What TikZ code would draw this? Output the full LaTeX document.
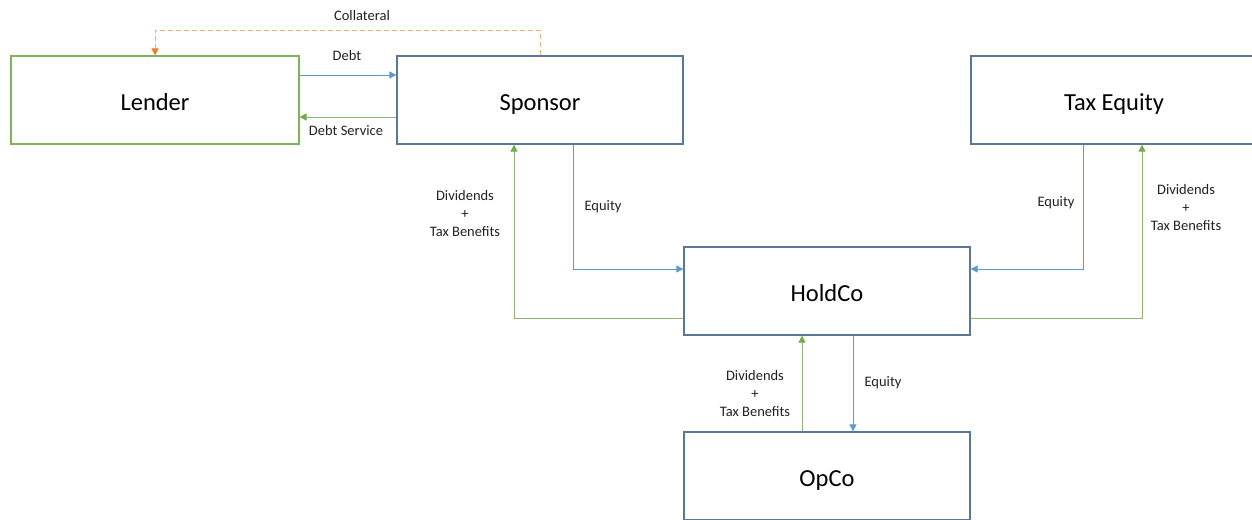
\documentclass[tikz,border=0pt]{standalone}
\usepackage{fontspec}
\setmainfont{Carlito}
\usetikzlibrary{arrows.meta}
\definecolor{gr}{HTML}{70AD47}
\definecolor{grl}{HTML}{8FB47A}
\definecolor{grb}{HTML}{7FB05A}
\definecolor{bl}{HTML}{5B9BD5}
\definecolor{bx}{HTML}{5A7896}
\definecolor{org}{HTML}{ED7D31}
\definecolor{orgl}{HTML}{F4B183}
\definecolor{txt}{HTML}{222222}
\tikzset{
  box/.style={draw=bx, line width=1.3pt, minimum width=286pt, minimum height=88pt, inner sep=0pt, text height=22pt, text depth=2pt, font=\fontsize{24.5}{28}\selectfont, text=black},
  lbl/.style={font=\fontsize{14.5}{18}\selectfont, text=txt, align=center, inner sep=0pt},
  bluea/.style={draw=bl, line width=1pt, -{Triangle[length=7pt,width=7pt,color=bl]}},
  greena/.style={draw=grl, line width=1pt, -{Triangle[length=7pt,width=7pt,color=gr]}},
  orangea/.style={draw=orgl, line width=1pt, dash pattern=on 5pt off 3pt, -{Triangle[length=7pt,width=7pt,color=org]}}
}
\begin{document}
\begin{tikzpicture}[x=1pt,y=-1pt]
\useasboundingbox (0,0) rectangle (1252,519);
\clip (0,0) rectangle (1252,519);
\fill[white] (0,0) rectangle (1252,519);
\node[box, draw=grb, line width=1.1pt, minimum width=288pt] (lender) at (155,100) {Lender};
\node[box] (sponsor) at (540,100) {Sponsor};
\node[box] (taxeq) at (1114,100) {Tax Equity};
\node[box] (holdco) at (827,291) {HoldCo};
\node[box] (opco) at (827,476) {OpCo};
% Lender <-> Sponsor
\draw[bluea] ([yshift=25pt]lender.east) -- ([yshift=25pt]sponsor.west);
\draw[greena] ([yshift=-17pt]sponsor.west) -- ([yshift=-17pt]lender.east);
\draw[orangea] (sponsor.north) -- ++(0,-25) -| (lender.north);
\node[lbl] (lcoll) at (362,16) {Collateral};
\node[lbl] (ldebt) at (347,56) {Debt};
\node[lbl] (ldebts) at (346,131) {Debt Service};
% Sponsor <-> HoldCo
\draw[bluea] ([xshift=33pt]sponsor.south) |- ([yshift=22pt]holdco.west);
\draw[greena] ([yshift=-27pt]holdco.west) -| ([xshift=-26pt]sponsor.south);
\node[lbl] (leq1) at (603,207) {Equity};
\node[lbl] (ldiv1) at (465,214) {Dividends\\+\\Tax Benefits};
% Tax Equity <-> HoldCo
\draw[bluea] ([xshift=-31pt]taxeq.south) |- ([yshift=22pt]holdco.east);
\draw[greena] ([yshift=-27pt]holdco.east) -| ([xshift=28pt]taxeq.south);
\node[lbl] (leq2) at (1056,203) {Equity};
\node[lbl] (ldiv2) at (1186,208) {Dividends\\+\\Tax Benefits};
% HoldCo <-> OpCo
\draw[greena] ([xshift=-25pt]opco.north) -- ([xshift=-25pt]holdco.south);
\draw[bluea] ([xshift=26pt]holdco.south) -- ([xshift=26pt]opco.north);
\node[lbl] (ldiv3) at (755,394) {Dividends\\+\\Tax Benefits};
\node[lbl] (leq3) at (883,383) {Equity};
\end{tikzpicture}
\end{document}
